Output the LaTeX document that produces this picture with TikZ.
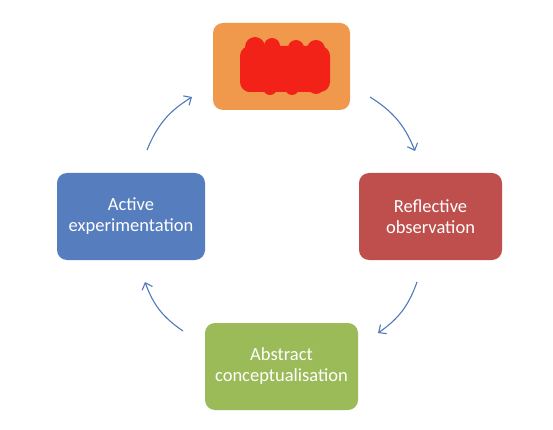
\documentclass[tikz,border=0pt]{standalone}
\usepackage{fontspec}
\setmainfont{Carlito}
\usetikzlibrary{arrows.meta}
\definecolor{cOrange}{HTML}{F0994C}
\definecolor{cRed}{HTML}{BE4F4C}
\definecolor{cBlue}{HTML}{567DBE}
\definecolor{cGreen}{HTML}{9BBB59}
\definecolor{cArrow}{HTML}{5079BC}
\definecolor{cScribble}{HTML}{F22218}
\tikzset{
  box/.style={rounded corners=10pt, minimum width=#1, minimum height=87pt, inner sep=0pt,
    text=white, align=center, font=\fontsize{18.5}{21}\selectfont},
  cyc/.style={draw=cArrow, line width=1.1pt, -{Straight Barb[length=6pt,width=11pt,line width=1.1pt]}, bend left=18}
}
\begin{document}
\begin{tikzpicture}[x=1pt,y=-1pt]
\useasboundingbox (0,0) rectangle (553,430);
\node[box=137pt, fill=cOrange] (top) at (281.5,66.5) {};
\node[box=143pt, fill=cRed] (right) at (430.5,216.5) {Reflective\\observation};
\node[box=148pt, fill=cBlue] (left) at (131,216.5) {Active\\experimentation};
\node[box=153pt, fill=cGreen] (bottom) at (281.5,366.5) {Abstract\\conceptualisation};
% redaction scribble over the top label
\begin{scope}
\fill[cScribble, rounded corners=10pt] (240,46) rectangle (330,92);
\fill[cScribble] (255,47) circle (10);
\fill[cScribble] (272,46) circle (8);
\fill[cScribble] (296,48) circle (8);
\fill[cScribble] (316,49) circle (9);
\fill[cScribble] (250,84) circle (8);
\fill[cScribble] (270,88) circle (7);
\fill[cScribble] (292,88) circle (7);
\fill[cScribble] (316,86) circle (8);
\end{scope}
\coordinate (a1) at (370,97);
\coordinate (a2) at (415,151);
\coordinate (b1) at (417,282);
\coordinate (b2) at (378,333);
\coordinate (c1) at (183,331);
\coordinate (c2) at (145,282);
\coordinate (d1) at (147,150);
\coordinate (d2) at (192,97);
\draw[cyc] (a1) to (a2);
\draw[cyc] (b1) to (b2);
\draw[cyc] (c1) to (c2);
\draw[cyc] (d1) to (d2);
\end{tikzpicture}
\end{document}
